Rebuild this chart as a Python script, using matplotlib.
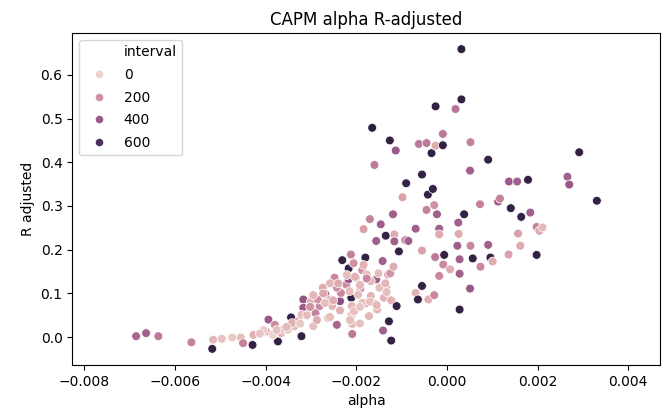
import matplotlib
matplotlib.use("Agg")
import matplotlib.pyplot as plt
import seaborn as sns
import numpy as np
import pandas as pd
from matplotlib.lines import Line2D

# alpha values (x), R adjusted (y), interval (hue)
alpha = [
    -0.00686, -0.00664, -0.00637, -0.00564, -0.00518, -0.00516, -0.00497, -0.00474, -0.00455, -0.00450,
    -0.00429, -0.00427, -0.00399, -0.00394, -0.00380, -0.00373, -0.00366, -0.00344, -0.00337, -0.00328,
    -0.00321, -0.00317, -0.00317, -0.00309, -0.00295, -0.00290, -0.00281, -0.00274, -0.00269, -0.00262,
    -0.00253, -0.00243, -0.00236, -0.00234, -0.00231, -0.00222, -0.00217, -0.00217, -0.00211, -0.00210,
    -0.00209, -0.00209, -0.00210, -0.00212, -0.00201, -0.00191, -0.00187, -0.00180, -0.00179, -0.00172,
    -0.00170, -0.00168, -0.00184, -0.00160, -0.00165, -0.00156, -0.00158, -0.00156, -0.00154, -0.00146,
    -0.00142, -0.00141, -0.00139, -0.00135, -0.00134, -0.00130, -0.00128, -0.00126, -0.00123, -0.00123,
    -0.00119, -0.00116, -0.00116, -0.00113, -0.00111, -0.00106, -0.00098, -0.00092, -0.00085, -0.00090,
    -0.00069, -0.00069, -0.00064, -0.00062, -0.00055, -0.00055, -0.00055, -0.00045, -0.00042, -0.00045,
    -0.00041, -0.00034, -0.00031, -0.00028, -0.00026, -0.00025, -0.00025, -0.00022, -0.00017, -0.00017,
    -0.00017, -0.00009, -0.00009, -0.00008, -0.00006, 0.00007, 0.00019, 0.00023, 0.00025, 0.00026,
    0.00028, 0.00028, 0.00028, 0.00032, 0.00032, 0.00038, 0.00052, 0.00051, 0.00052, 0.00051,
    0.00057, 0.00073, 0.00074, 0.00091, 0.00091, 0.00096, 0.00101, 0.00113, 0.00117, 0.00136,
    0.00137, 0.00141, 0.00155, 0.00157, 0.00162, 0.00164, 0.00179, 0.00184, 0.00198, 0.00198,
    0.00204, 0.00211, 0.00266, 0.00270, 0.00292, 0.00331,
    -0.00384, -0.00361, -0.00300, -0.00285, -0.00257, -0.00248, -0.00243, -0.00196, -0.00168, -0.00149,
    -0.00177, -0.00215, -0.00205, -0.00187, -0.00269, -0.00321, -0.00351, -0.00342, -0.00028,
    -0.00258, -0.00240, -0.00221, -0.00203, -0.00192, -0.00177, -0.00151, -0.00136, -0.00133, -0.00170,
    -0.00155, -0.00192, -0.00236, -0.00258, -0.00287, -0.00309, -0.00324, -0.00354, -0.00376, -0.00405,
    -0.00413, -0.00251, -0.00273, -0.00295, -0.00214, -0.00192, -0.00302, -0.00206, -0.00184, -0.00125,
    -0.00118,
]
r_adjusted = [
    0.002, 0.009, 0.002, -0.012, -0.027, -0.006, -0.004, -0.001, -0.001, -0.014,
    -0.018, 0.005, 0.013, 0.040, 0.028, -0.010, 0.009, 0.045, 0.025, 0.036,
    0.002, 0.086, 0.067, 0.051, 0.025, 0.055, 0.071, 0.113, 0.099, 0.044,
    0.071, 0.028, 0.082, 0.101, 0.176, 0.120, 0.157, 0.132, 0.090, 0.071,
    0.030, 0.007, 0.051, 0.189, 0.136, 0.111, 0.153, 0.182, 0.078, 0.048,
    0.270, 0.094, 0.247, 0.394, 0.479, 0.220, 0.076, 0.132, 0.063, 0.258,
    0.174, 0.015, 0.090, 0.232, 0.114, 0.143, 0.036, 0.450, -0.008, 0.084,
    0.281, 0.235, 0.219, 0.427, 0.071, 0.196, 0.320, 0.222, 0.220, 0.352,
    0.248, 0.101, 0.086, 0.442, 0.372, 0.117, 0.198, 0.444, 0.326, 0.291,
    0.086, 0.421, 0.339, 0.096, 0.183, 0.528, 0.438, 0.281, 0.248, 0.235,
    0.140, 0.465, 0.439, 0.166, 0.188, 0.155, 0.522, 0.209, 0.262, 0.236,
    0.178, 0.145, 0.063, 0.659, 0.544, 0.281, 0.446, 0.381, 0.209, 0.111,
    0.180, 0.304, 0.161, 0.406, 0.211, 0.182, 0.173, 0.310, 0.317, 0.189,
    0.356, 0.295, 0.356, 0.237, 0.209, 0.275, 0.360, 0.285, 0.188, 0.252,
    0.243, 0.251, 0.367, 0.349, 0.423, 0.312,
    0.005, 0.017, 0.082, 0.086, 0.086, 0.136, 0.113, 0.097, 0.128, 0.113,
    0.143, 0.105, 0.059, 0.078, 0.078, 0.051, 0.017, 0.032, 0.302,
    0.123, 0.123, 0.142, 0.138, 0.119, 0.134, 0.146, 0.123, 0.103, 0.081,
    0.073, 0.069, 0.061, 0.046, 0.039, 0.050, 0.031, 0.023, 0.016, 0.016,
    0.008, 0.084, 0.100, 0.096, 0.039, 0.031, 0.069, 0.169, 0.165, 0.146,
    0.161,
]
interval = [
    350, 380, 280, 250, 680, 80, 50, 30, 60, 250,
    680, 100, 120, 400, 220, 680, 100, 680, 80, 150,
    680, 420, 400, 100, 60, 250, 230, 120, 400, 100,
    80, 350, 450, 230, 680, 230, 680, 400, 680, 80,
    80, 280, 60, 250, 180, 200, 200, 680, 220, 80,
    250, 100, 150, 280, 700, 380, 100, 380, 80, 380,
    380, 380, 100, 680, 120, 120, 680, 680, 680, 100,
    380, 120, 380, 400, 680, 680, 150, 230, 380, 680,
    380, 100, 680, 280, 680, 680, 150, 280, 680, 250,
    100, 680, 680, 230, 280, 680, 120, 380, 380, 120,
    230, 280, 680, 230, 680, 120, 300, 380, 380, 120,
    380, 380, 680, 700, 680, 680, 250, 380, 230, 400,
    680, 250, 230, 680, 380, 680, 120, 380, 250, 150,
    400, 680, 380, 150, 120, 680, 680, 380, 680, 250,
    120, 80, 380, 400, 680, 680,
    0, 60, 100, 200, 100, 230, 200, 60, 80, 60,
    60, 60, 60, 60, 60, 60, 40, 100, 200,
    90, 120, 60, 100, 80, 230, 70, 90, 60, 50,
    80, 40, 100, 60, 120, 70, 30, 80, 60, 20,
    40, 110, 130, 90, 60, 50, 200, 200, 100, 200,
    110,
]

legend_ticks = [0, 200, 400, 600]

df = pd.DataFrame({"alpha": alpha, "R adjusted": r_adjusted, "interval": interval})

fig = plt.figure(figsize=(6.69, 4.12), dpi=100)
ax = fig.add_axes([0.108, 0.114, 0.879, 0.806])

cmap = sns.color_palette("ch:", as_cmap=True)
norm = plt.Normalize(min(interval), max(interval))

sns.scatterplot(data=df, x="alpha", y="R adjusted", hue="interval",
                palette=cmap, hue_norm=norm, ax=ax, legend=False, s=40)

ax.set_xlim(-0.00827, 0.00471)
ax.set_ylim(-0.064, 0.696)
ax.set_title("CAPM alpha R-adjusted")
ax.set_xlabel("alpha")
ax.set_ylabel("R adjusted")

handles = [Line2D([], [], linestyle="none", marker="")]
labels = ["interval"]
for t in legend_ticks:
    handles.append(Line2D([], [], linestyle="none", marker="o", markersize=6.5,
                          markerfacecolor=cmap(norm(t)), markeredgecolor="white"))
    labels.append(str(t))
ax.legend(handles, labels, loc="upper left", labelspacing=0.62)

fig.savefig("out.png", dpi=100)
